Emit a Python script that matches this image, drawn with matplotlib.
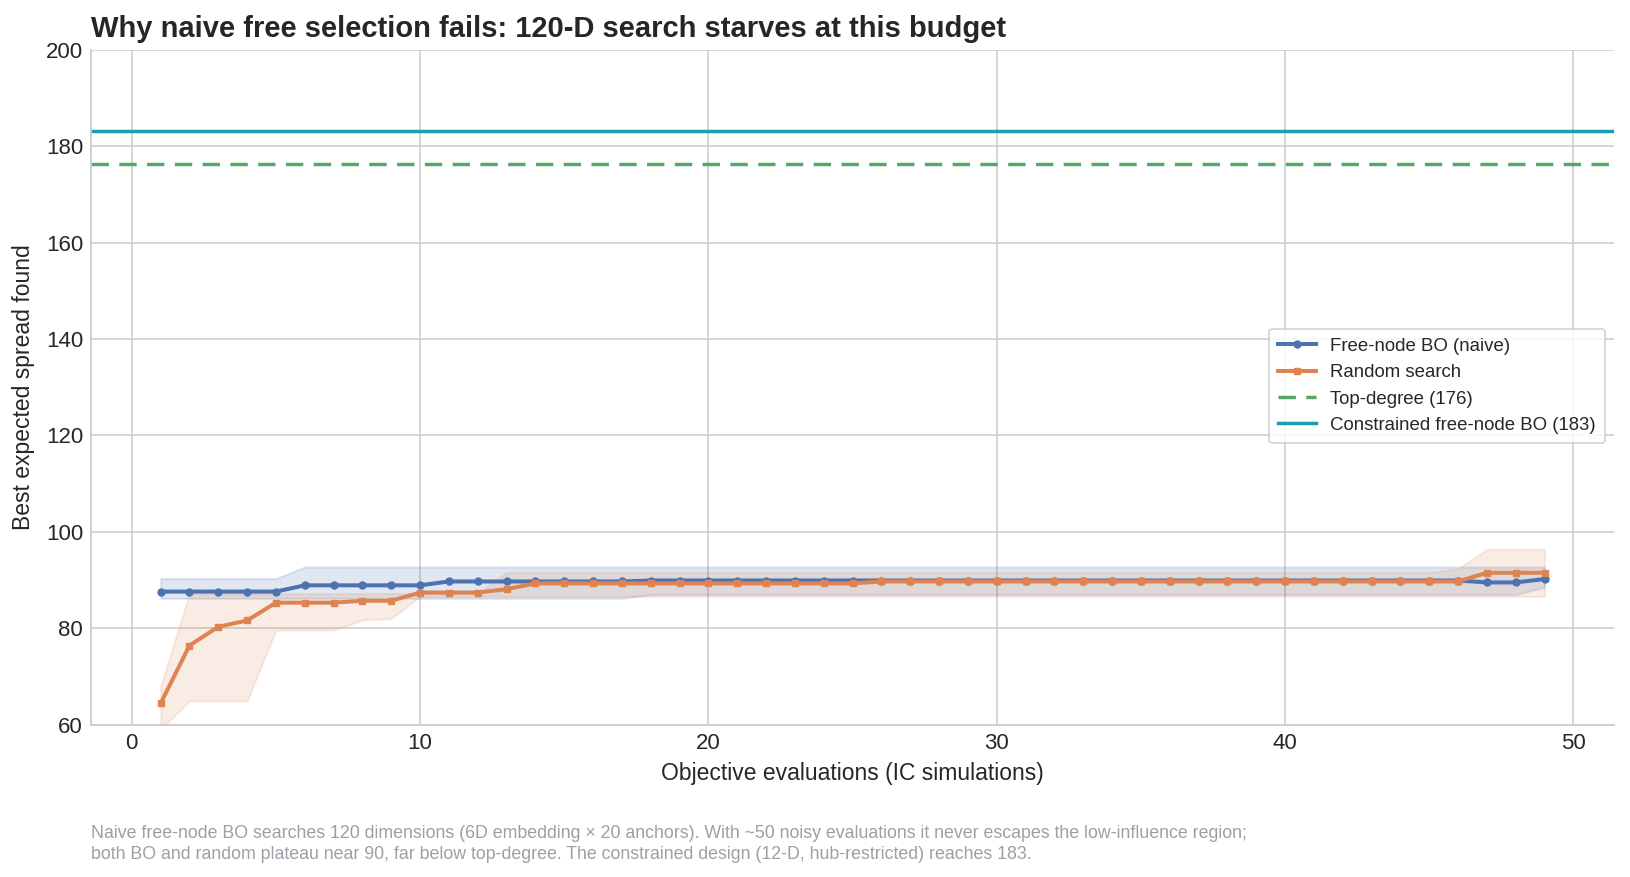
import numpy as np
import matplotlib
matplotlib.use("Agg")
import matplotlib.pyplot as plt

plt.rcParams['font.family'] = ['Liberation Sans', 'DejaVu Sans']

evals = list(range(1, 50))

bo_mean = [87.6]*5 + [88.9]*5 + [89.7]*7 + [89.9]*29 + [89.5, 89.5, 90.2]
bo_low = [86.2]*17 + [87.0]*31 + [88.5]
bo_high = [90.3]*5 + [92.7]*44

rs_mean = [64.4, 76.4, 80.3, 81.6, 85.3, 85.3, 85.3, 85.7, 85.7, 87.4, 87.4, 87.4, 88.1] \
    + [89.3]*12 + [89.7]*21 + [91.5, 91.5, 91.5]
rs_low = [59.0, 64.9, 64.9, 64.9, 79.6, 79.6, 79.6, 81.7, 82.0, 86.6, 86.6, 86.6] + [86.6]*37
rs_high = [67.9] + [87.2]*11 + [91.6]*33 + [92.3] + [96.4]*3

top_degree = 176.4
constrained = 183.2

title = "Why naive free selection fails: 120-D search starves at this budget"
xlabel = "Objective evaluations (IC simulations)"
ylabel = "Best expected spread found"
note = ("Naive free-node BO searches 120 dimensions (6D embedding \u00d7 20 anchors). "
        "With ~50 noisy evaluations it never escapes the low-influence region;\n"
        "both BO and random plateau near 90, far below top-degree. "
        "The constrained design (12-D, hub-restricted) reaches 183.")

c_bo = "#4C72B0"
c_rs = "#DD8452"
c_td = "#55A868"
c_cn = "#1b9db5"

fig = plt.figure(figsize=(16.3, 8.77), dpi=100)
ax = fig.add_axes([0.0561, 0.1738, 0.9339, 0.7692])

ax.fill_between(evals, bo_low, bo_high, color=c_bo, alpha=0.17, lw=1.5)
ax.fill_between(evals, rs_low, rs_high, color=c_rs, alpha=0.15, lw=1.5)
ax.plot(evals, bo_mean, color=c_bo, lw=2.9, marker='o', ms=5, label="Free-node BO (naive)", zorder=4)
ax.plot(evals, rs_mean, color=c_rs, lw=2.9, marker='s', ms=5, label="Random search", zorder=5)
ax.axhline(top_degree, color=c_td, lw=2.5, ls=(0, (5, 3)), label="Top-degree (176)")
ax.axhline(constrained, color=c_cn, lw=2.5, label="Constrained free-node BO (183)")

ax.set_xlim(-1.4, 51.4)
ax.set_ylim(60, 200)
ax.set_xticks([0, 10, 20, 30, 40, 50])
ax.set_yticks([60, 80, 100, 120, 140, 160, 180, 200])
ax.grid(True, color="#cccccc", lw=1.1)
ax.set_axisbelow(True)
for s in ["top", "right"]:
    ax.spines[s].set_visible(False)
for s in ["left", "bottom"]:
    ax.spines[s].set_color("#cccccc")
    ax.spines[s].set_linewidth(1.3)
ax.tick_params(axis='both', length=0, labelsize=16, colors="#262626", pad=6)

ax.set_xlabel(xlabel, fontsize=16.5, color="#262626", labelpad=6)
ax.set_ylabel(ylabel, fontsize=16.5, color="#262626", labelpad=8)
ax.set_title(title, fontsize=21, fontweight='bold', color="#262626", loc='left', pad=9)

leg = ax.legend(loc='center right', bbox_to_anchor=(0.997, 0.502), fontsize=13.4,
                frameon=True, framealpha=0.85, edgecolor="#cccccc", fancybox=True,
                handlelength=2.0, handletextpad=0.8, borderpad=0.5, labelspacing=0.5,
                borderaxespad=0.2, labelcolor="#262626")
leg.get_frame().set_linewidth(1.2)

fig.text(0.0561, 0.016, note, fontsize=12.75, color="#9aa0a6", ha='left', va='bottom', linespacing=1.3)

fig.savefig("out.png", dpi=100)
